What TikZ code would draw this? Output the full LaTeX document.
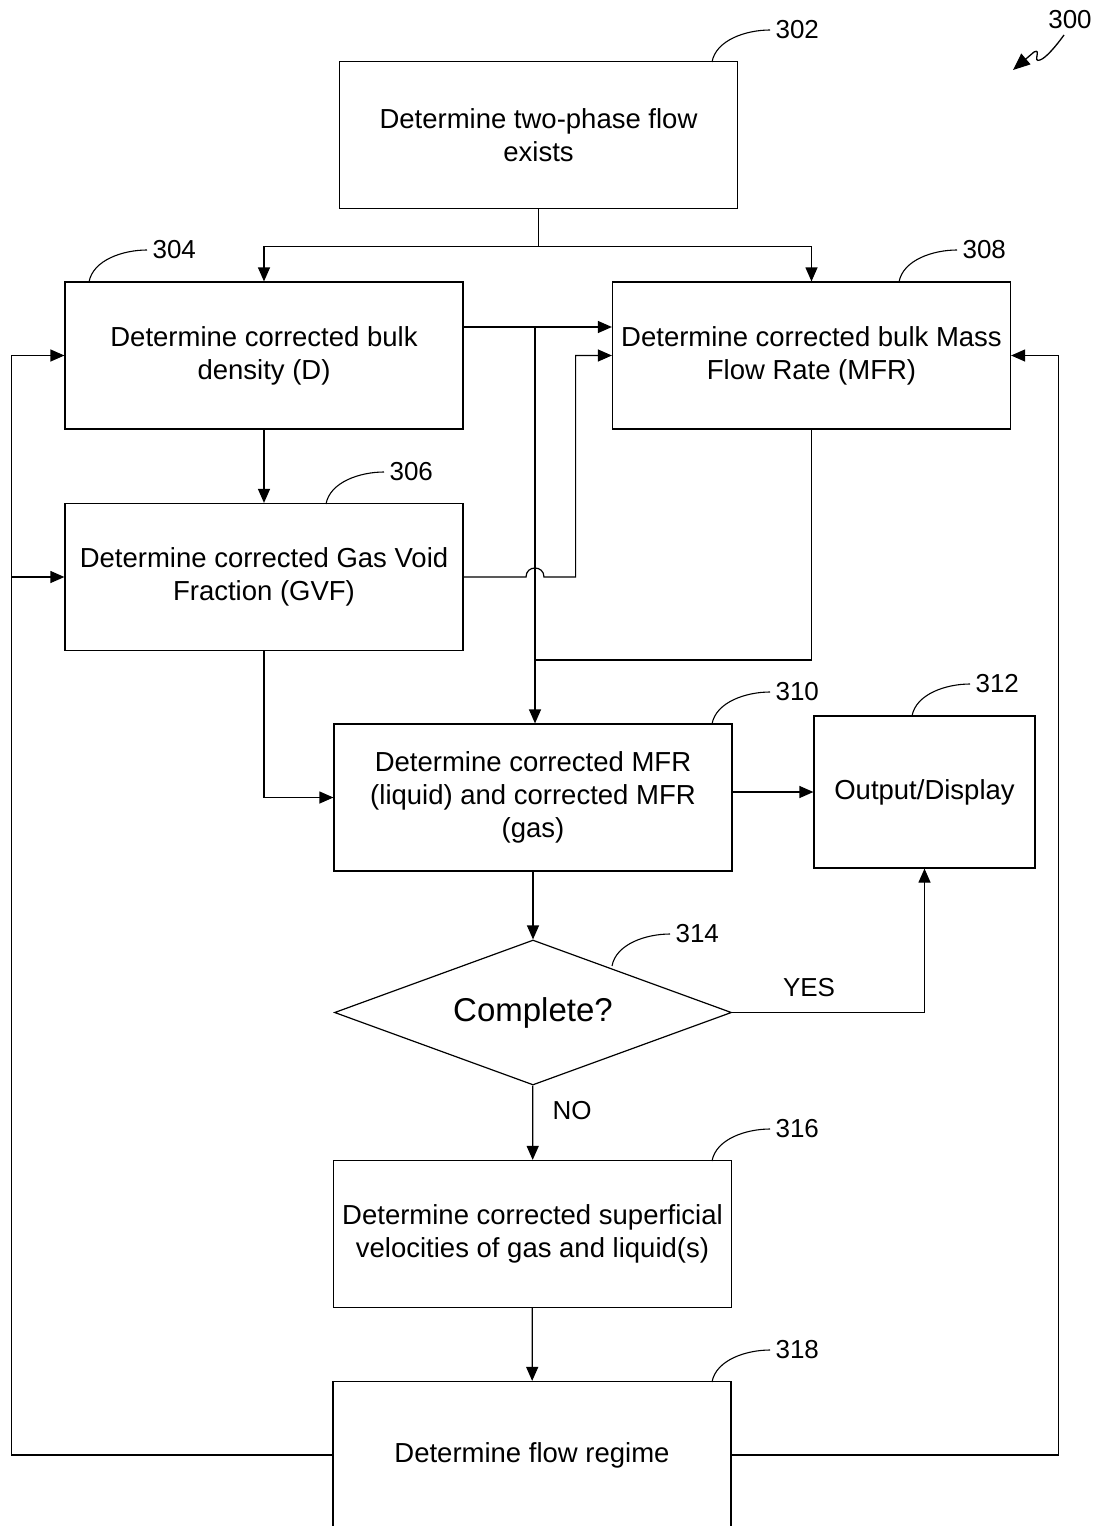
\documentclass[tikz,border=0pt]{standalone}
\usepackage{fontspec}
\setmainfont{Liberation Sans}
\usetikzlibrary{arrows.meta,calc,shapes.geometric}

\tikzset{
	stepbox/.style={draw,line width=1.2pt,minimum width=398pt,minimum height=147pt,
		inner sep=0pt,align=center,font=\fontsize{27.5}{33}\selectfont},
	flow/.style={line width=1.2pt,-{Triangle[length=14pt,width=12pt]}},
	conn/.style={line width=1.2pt},
	refnum/.style={anchor=west,inner sep=5pt,font=\fontsize{26}{30}\selectfont},
}

\begin{document}
\begin{tikzpicture}[x=1pt,y=-1pt]
	\useasboundingbox (0,0) rectangle (1096,1526);

	\node[stepbox] (n302) at (538.5,135) {Determine two-phase flow\\exists};
	\node[stepbox] (n304) at (264,355.5) {Determine corrected bulk\\density (D)};
	\node[stepbox] (n308) at (811.5,355.5) {Determine corrected bulk Mass\\Flow Rate (MFR)};
	\node[stepbox] (n306) at (264,577) {Determine corrected Gas Void\\Fraction (GVF)};
	\node[stepbox] (n310) at (533,797.5) {Determine corrected MFR\\(liquid) and corrected MFR\\(gas)};
	\node[stepbox,minimum width=221pt,minimum height=152pt] (n312) at (924.5,792) {Output/Display};
	\node[draw,diamond,aspect=2.74,line width=1.2pt,minimum width=397pt,minimum height=145pt,inner sep=0pt,
		font=\fontsize{33}{38}\selectfont] (n314) at (533,1012.5) {Complete?};
	\node[stepbox] (n316) at (532.5,1234) {Determine corrected superficial\\velocities of gas and liquid(s)};
	\node[stepbox] (n318) at (532,1455) {Determine flow regime};

	% split below 302
	\coordinate (j0) at ($(n302.south)+(0,37)$);
	\draw[conn] (n302.south) -- (j0);
	\draw[flow] (j0) -| (n304.north);
	\draw[flow] (j0) -| (n308.north);

	% bulk density to MFR and down to 310
	\coordinate (j1) at (535,327);
	\coordinate (j2) at (535,660);
	\draw[flow] (j1 -| n304.east) -- (j1 -| n308.west);
	\draw[flow] (j1) -- (j1 |- n310.north);
	\draw[conn] (n308.south) |- (j2);

	% GVF to MFR, hopping over the vertical line
	\draw[flow] (n306.east) -- ($(j1 |- n306.east)+(-9,0)$)
		.. controls +(0,-12) and +(0,-12) .. ++(18,0)
		-- ($(n306.east)+(112,0)$) |- (n308.west);

	\draw[flow] (n304) -- (n306);
	\draw[flow] (n306.south) |- (n310.west);
	\draw[flow] (n310.east |- n312.west) -- (n312.west);
	\draw[flow] (n310) -- (n314);
	\draw[flow] (n314.east) -| node[pos=0.2,above=12pt,font=\fontsize{26}{30}\selectfont] (yes) {YES} (n312.south);
	\draw[flow] (n314) -- node[pos=0.33,right=16pt,font=\fontsize{26}{30}\selectfont] (no) {NO} (n316);
	\draw[flow] (n316) -- (n318);

	% feedback from flow regime
	\coordinate (c1) at ($(n318.west)+(-321,0)$);
	\coordinate (c2) at ($(n318.east)+(327,0)$);
	\draw[flow] (n318.west) -- (c1) |- (n304.west);
	\draw[flow] (c1 |- n306.west) -- (n306.west);
	\draw[flow] (n318.east) -- (c2) |- (n308.east);

	% reference numerals
	\foreach \n/\x/\y in {302/712/62,304/89/282,308/899/282,306/326/504,310/712/724,
		312/912/716,314/612/966,316/712/1161,318/712/1382}
		\draw[line width=1.1pt] (\x,\y) .. controls +(4,-22) and +(-24,0) .. ++(58,-32)
			node[refnum] (l\n) {\n};

	\node[font=\fontsize{26}{30}\selectfont] (l300) at (1070,20) {300};
	\draw[line width=1.3pt,-{Triangle[length=17pt,width=14pt]}] (1064,35)
		.. controls (1056,46) and (1046,58) .. (1040,60)
		.. controls (1032,63) and (1042,48) .. (1034,52)
		-- (1013,70);
\end{tikzpicture}
\end{document}
